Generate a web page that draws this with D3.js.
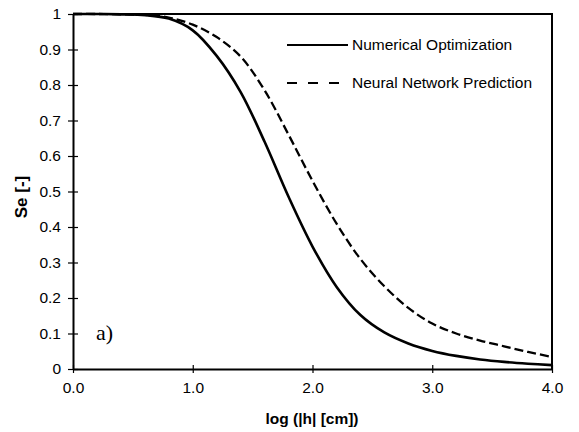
<!DOCTYPE html>
<html>
<head>
<meta charset="utf-8">
<script src="https://cdn.jsdelivr.net/npm/d3@7"></script>
<style>
  body { margin: 0; background: #fff; }
  svg { display: block; }
</style>
</head>
<body>
<script>
let width = 579, height = 432

// log(|h|) positions where the curves were read
let logH = [0, 0.2, 0.4, 0.6, 0.8, 1.0, 1.2, 1.4, 1.6, 1.8, 2.0, 2.2, 2.4, 2.6, 2.8, 3.0, 3.2, 3.4, 3.6, 3.8, 4.0]

// Se
let seNumerical = [1.0, 1.0, 0.999, 0.997, 0.987, 0.954, 0.882, 0.78, 0.64, 0.485, 0.345, 0.232, 0.152, 0.103, 0.072, 0.051, 0.037, 0.027, 0.02, 0.015, 0.011]
let seNeural = [1.0, 1.0, 0.999, 0.997, 0.99, 0.97, 0.935, 0.88, 0.785, 0.66, 0.53, 0.41, 0.31, 0.233, 0.172, 0.128, 0.1, 0.08, 0.064, 0.048, 0.034]

let xTicks = [0, 1, 2, 3, 4]
let yTicks = [0, 0.1, 0.2, 0.3, 0.4, 0.5, 0.6, 0.7, 0.8, 0.9, 1]

let seriesNames = ["Numerical Optimization", "Neural Network Prediction"]

let x = d3.scaleLinear().domain([0, 4]).range([73, 552])
let y = d3.scaleLinear().domain([0, 1]).range([369, 14])

let svg = d3.select("body").append("svg")
    .attr("width", width)
    .attr("height", height)
    .attr("font-family", "'Liberation Sans', Arial, sans-serif")

// frame (top and right)
svg.append("path")
    .attr("d", `M${x(0)},${y(1)}H${x(4)}V${y(0)}`)
    .attr("fill", "none")
    .attr("stroke", "#000")
    .attr("stroke-width", 2)

// axes
let xAxis = svg.append("g")
    .attr("transform", `translate(0,${y(0)})`)
    .call(d3.axisBottom(x).tickValues(xTicks).tickFormat(d3.format(".1f")).tickSize(4).tickSizeOuter(0))
xAxis.select(".domain").attr("stroke-width", 2)
xAxis.selectAll(".tick line").attr("y1", -4).attr("stroke-width", 1.2)
xAxis.selectAll(".tick text").attr("font-size", 15.5).attr("y", 13).attr("dy", "0.71em").attr("fill", "#000")

let yAxis = svg.append("g")
    .attr("transform", `translate(${x(0)},0)`)
    .call(d3.axisLeft(y).tickValues(yTicks).tickFormat(d => (d === 0 || d === 1) ? d : d.toFixed(1)).tickSize(5).tickSizeOuter(0))
yAxis.select(".domain").attr("stroke-width", 2)
yAxis.selectAll(".tick line").attr("x1", 5).attr("stroke-width", 1.2)
yAxis.selectAll(".tick text").attr("font-size", 15.5).attr("x", -12).attr("fill", "#000")

// axis titles
svg.append("text")
    .attr("x", 312).attr("y", 424)
    .attr("text-anchor", "middle")
    .attr("font-size", 15.5).attr("font-weight", "bold")
    .text("log (|h| [cm])")

svg.append("text")
    .attr("transform", "translate(27,197) rotate(-90)")
    .attr("text-anchor", "middle")
    .attr("font-size", 17).attr("font-weight", "bold")
    .text("Se [-]")

// curves
let line = d3.line()
    .x((d, i) => x(logH[i]))
    .y(d => y(d))
    .curve(d3.curveCatmullRom.alpha(0.5))

svg.append("path")
    .attr("d", line(seNumerical))
    .attr("fill", "none")
    .attr("stroke", "#000")
    .attr("stroke-width", 2.6)

svg.append("path")
    .attr("d", line(seNeural))
    .attr("fill", "none")
    .attr("stroke", "#000")
    .attr("stroke-width", 2.3)
    .attr("stroke-dasharray", "9,4")

// legend
let legend = svg.append("g").selectAll("g")
    .data(seriesNames)
    .join("g")
    .attr("transform", (d, i) => `translate(287,${45 + i * 38})`)

legend.append("line")
    .attr("x2", (d, i) => i === 0 ? 61 : 55)
    .attr("stroke", "#000")
    .attr("stroke-width", 2)
    .attr("stroke-dasharray", (d, i) => i === 0 ? null : "10,11")

legend.append("text")
    .attr("x", 65)
    .attr("dy", "0.35em")
    .attr("font-size", 15.5)
    .text(d => d)

// panel label
svg.append("text")
    .attr("x", 96).attr("y", 340)
    .attr("font-family", "'Liberation Serif', 'Times New Roman', serif")
    .attr("font-size", 22)
    .text("a)")
</script>
</body>
</html>
